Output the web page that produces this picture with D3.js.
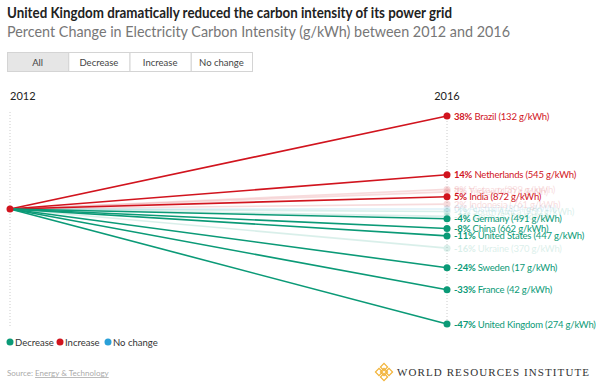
<!DOCTYPE html>
<html>
<head>
<meta charset="utf-8">
<script src="https://cdn.jsdelivr.net/npm/d3@7"></script>
<style>
  body { margin: 0; background: #fff; }
  svg { font-family: "Lato", "Open Sans", sans-serif; }
</style>
</head>
<body>
<svg width="600" height="383"></svg>
<script>
// data (faded rows are estimates)
var countries = ["Brazil", "Netherlands", "Vietnam", "Turkey", "India", "Indonesia", "Australia",
                 "South Africa", "Japan", "Germany", "China", "United States", "Ukraine",
                 "Sweden", "France", "United Kingdom"];
var pctChange = [38, 14, 8, 7, 5, 2, 0, -1, -3, -4, -8, -11, -16, -24, -33, -47];
var intensity2016 = [132, 545, 399, 470, 872, 761, 804, 950, 535, 491, 662, 447, 370, 17, 42, 274];
var highlighted = [true, true, false, false, true, false, false,
                   false, false, true, true, true, false, true, true, true];
var years = ["2012", "2016"];
var buttons = ["All", "Decrease", "Increase", "No change"];
var legendItems = ["Decrease", "Increase", "No change"];

var colors = { "Decrease": "#0b9a77", "Increase": "#d1141e", "No change": "#2aa0d8" };
function kind(v) { return v > 0 ? "Increase" : (v < 0 ? "Decrease" : "No change"); }

var svg = d3.select("svg");

svg.append("text")
  .attr("x", 7).attr("y", 18)
  .attr("font-size", 14.5).attr("font-weight", "bold").attr("fill", "#222")
  .attr("textLength", 445).attr("lengthAdjust", "spacingAndGlyphs")
  .text("United Kingdom dramatically reduced the carbon intensity of its power grid");

svg.append("text")
  .attr("x", 7).attr("y", 37)
  .attr("font-size", 15).attr("fill", "#777")
  .attr("textLength", 503).attr("lengthAdjust", "spacingAndGlyphs")
  .text("Percent Change in Electricity Carbon Intensity (g/kWh) between 2012 and 2016");

// filter buttons
var bx = d3.scaleBand().domain(buttons).range([7, 252]);
var btn = svg.append("g").selectAll("g").data(buttons).enter().append("g");
btn.append("rect")
  .attr("x", function (d) { return bx(d) + 0.5; })
  .attr("y", 52.5)
  .attr("width", bx.bandwidth())
  .attr("height", 19)
  .attr("fill", function (d, i) { return i == 0 ? "#e6e6e6" : "#fff"; })
  .attr("stroke", "#d4d4d4");
btn.append("text")
  .attr("x", function (d) { return bx(d) + bx.bandwidth() / 2; })
  .attr("y", 65.5)
  .attr("text-anchor", "middle")
  .attr("font-size", 9.5).attr("fill", "#444")
  .text(function (d) { return d; });

var x = d3.scalePoint().domain(years).range([10, 447]);
var y = d3.scaleLinear().domain([38, -47]).range([116, 324]);

svg.append("text").attr("x", x("2012")).attr("y", 100)
  .attr("font-size", 11).attr("fill", "#222").text("2012");
svg.append("text").attr("x", x("2016")).attr("y", 100).attr("text-anchor", "middle")
  .attr("font-size", 11).attr("fill", "#222").text("2016");

svg.selectAll(".guide").data(years).enter().append("line")
  .attr("class", "guide")
  .attr("x1", function (d) { return x(d); }).attr("x2", function (d) { return x(d); })
  .attr("y1", 112).attr("y2", 328)
  .attr("stroke", "#ccc").attr("stroke-width", 1).attr("stroke-dasharray", "1,2");

var rows = countries.map(function (c, i) {
  return { name: c, pct: pctChange[i], g: intensity2016[i], on: highlighted[i] };
});
// faded ones drawn first
rows.sort(function (a, b) { return (a.on ? 1 : 0) - (b.on ? 1 : 0); });

var row = svg.append("g").selectAll("g").data(rows).enter().append("g")
  .attr("opacity", function (d) { return d.on ? 1 : 0.15; });

row.append("line")
  .attr("x1", x("2012")).attr("y1", y(0))
  .attr("x2", x("2016")).attr("y2", function (d) { return y(d.pct); })
  .attr("stroke", function (d) { return colors[kind(d.pct)]; })
  .attr("stroke-width", 1.6);

row.append("circle")
  .attr("cx", x("2016")).attr("cy", function (d) { return y(d.pct); })
  .attr("r", 3.5)
  .attr("fill", function (d) { return colors[kind(d.pct)]; });

var lab = row.append("text")
  .attr("x", x("2016") + 7)
  .attr("y", function (d) { return y(d.pct) + 3.5; })
  .attr("font-size", 9.5)
  .attr("letter-spacing", -0.2)
  .attr("fill", function (d) { return colors[kind(d.pct)]; });
lab.append("tspan").attr("font-weight", "bold").text(function (d) { return d.pct + "%"; });
lab.append("tspan").text(function (d) { return " " + d.name + " (" + d.g + " g/kWh)"; });

svg.append("circle").attr("cx", x("2012")).attr("cy", y(0)).attr("r", 3.5)
  .attr("fill", colors["Increase"]);

// legend
var lx = [10, 60, 108];
var leg = svg.append("g").selectAll("g").data(legendItems).enter().append("g")
  .attr("transform", function (d, i) { return "translate(" + lx[i] + ",342)"; });
leg.append("circle").attr("r", 3.5).attr("fill", function (d) { return colors[d]; });
leg.append("text").attr("x", 5).attr("y", 3.5).attr("font-size", 9.5).attr("fill", "#333")
  .text(function (d) { return d; });

// source
var src = svg.append("text").attr("x", 7).attr("y", 376).attr("font-size", 8).attr("fill", "#aaa");
src.append("tspan").text("Source: ");
src.append("tspan").attr("text-decoration", "underline").text("Energy & Technology");

// WRI logo
var logo = svg.append("g").attr("transform", "translate(384,372)");
[[0, -5], [-5, 0], [5, 0], [0, 5], [0, 0]].forEach(function (p) {
  logo.append("rect").attr("x", p[0] - 2.5).attr("y", p[1] - 2.5).attr("width", 5).attr("height", 5)
    .attr("transform", "rotate(45," + p[0] + "," + p[1] + ")")
    .attr("fill", "none").attr("stroke", "#f2b43a").attr("stroke-width", 1.2);
});
svg.append("text").attr("x", 397).attr("y", 376)
  .attr("font-family", "Liberation Serif, serif").attr("font-size", 11)
  .attr("fill", "#333")
  .attr("textLength", 192).attr("lengthAdjust", "spacing")
  .text("WORLD RESOURCES INSTITUTE");
</script>
</body>
</html>
